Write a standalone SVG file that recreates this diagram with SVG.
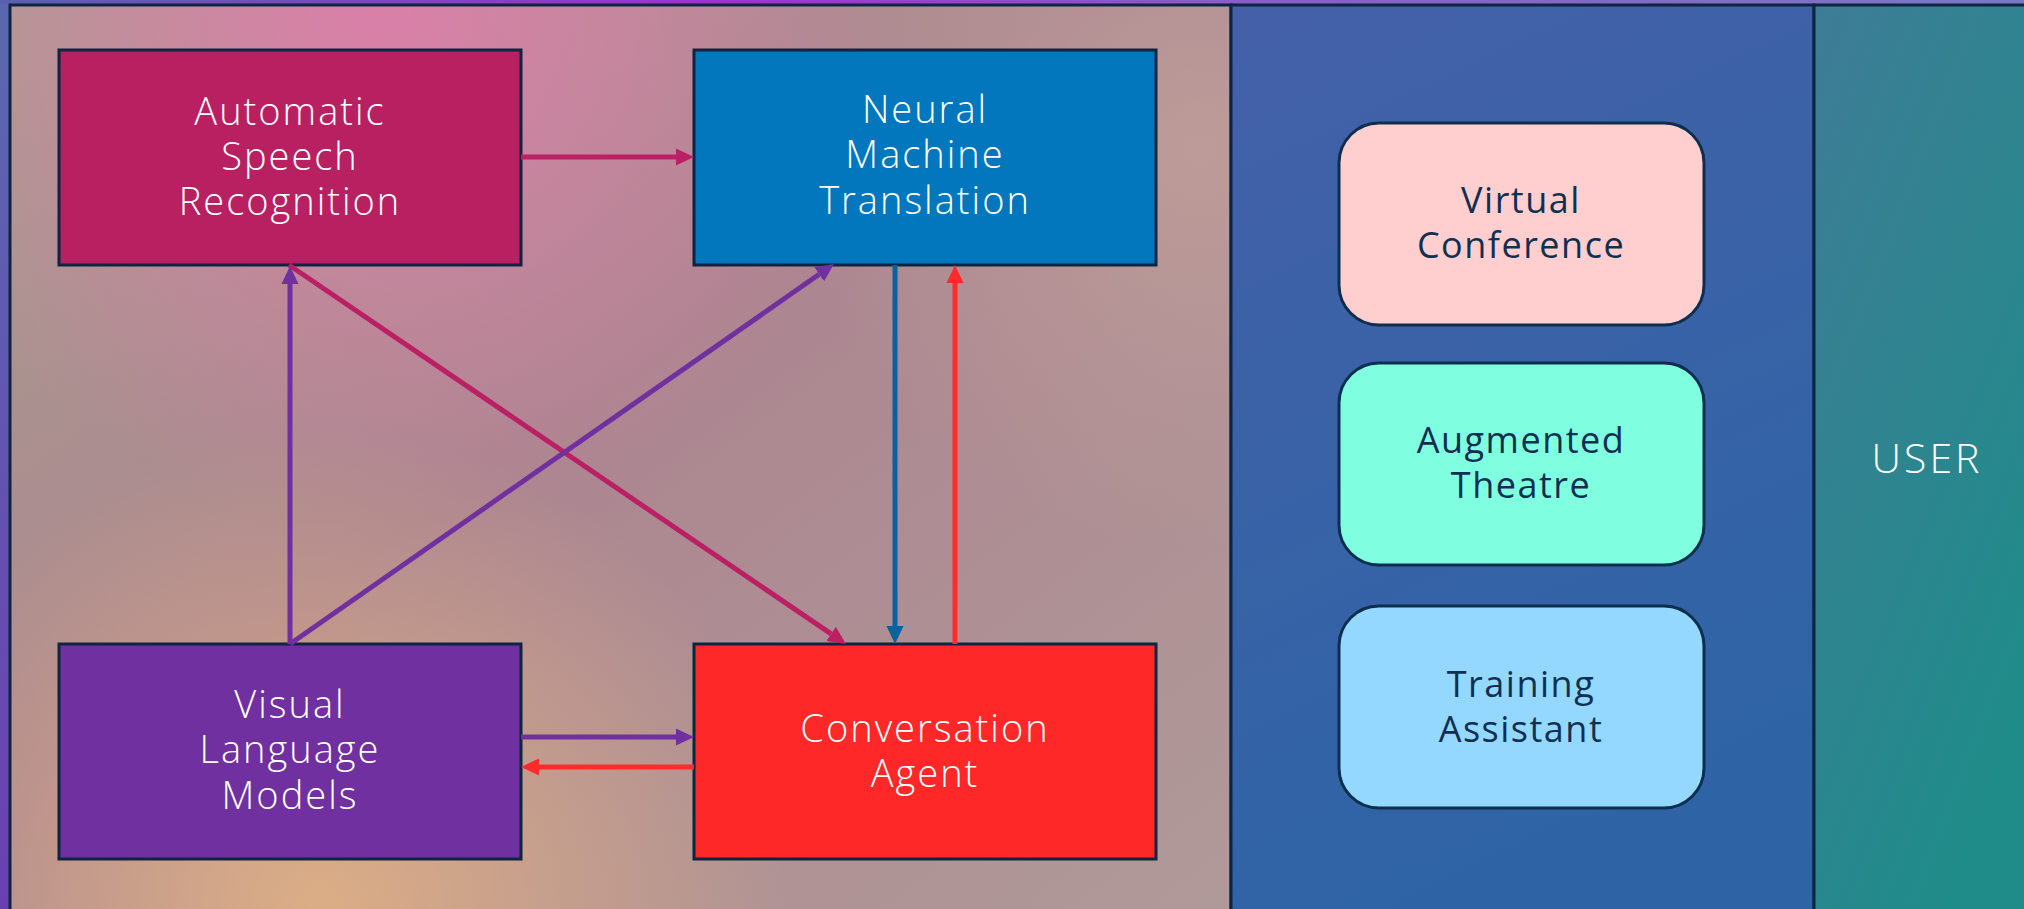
<svg xmlns="http://www.w3.org/2000/svg" width="2024" height="909" viewBox="0 0 2024 909">
  <defs>
    <linearGradient id="frameG" x1="0" y1="0" x2="1" y2="0">
      <stop offset="0" stop-color="#5a5fb0"/>
      <stop offset="0.35" stop-color="#a030d0"/>
      <stop offset="0.6" stop-color="#8a5cc8"/>
      <stop offset="1" stop-color="#7a78c4"/>
    </linearGradient>
    <linearGradient id="leftStripG" x1="0" y1="0" x2="0" y2="1">
      <stop offset="0" stop-color="#5a68b0"/>
      <stop offset="1" stop-color="#6a40b0"/>
    </linearGradient>
    <linearGradient id="panelBase" x1="0" y1="0" x2="1" y2="1">
      <stop offset="0" stop-color="#a89e8e"/>
      <stop offset="0.45" stop-color="#ac8590"/>
      <stop offset="1" stop-color="#b09a98"/>
    </linearGradient>
    <radialGradient id="pinkGlow" cx="380" cy="0" r="520" gradientUnits="userSpaceOnUse">
      <stop offset="0" stop-color="#de7eaa" stop-opacity="0.95"/>
      <stop offset="1" stop-color="#de7eaa" stop-opacity="0"/>
    </radialGradient>
    <radialGradient id="peachGlow" cx="320" cy="909" r="480" gradientUnits="userSpaceOnUse">
      <stop offset="0" stop-color="#dcae86" stop-opacity="1"/>
      <stop offset="1" stop-color="#dcae86" stop-opacity="0"/>
    </radialGradient>
    <radialGradient id="greyGlow" cx="1200" cy="150" r="400" gradientUnits="userSpaceOnUse">
      <stop offset="0" stop-color="#c0a09a" stop-opacity="0.8"/>
      <stop offset="1" stop-color="#c0a09a" stop-opacity="0"/>
    </radialGradient>
    <linearGradient id="midG" x1="0" y1="0" x2="0.3" y2="1">
      <stop offset="0" stop-color="#4460a8"/>
      <stop offset="1" stop-color="#2e64a6"/>
    </linearGradient>
    <linearGradient id="rightG" x1="0" y1="0" x2="0.6" y2="1">
      <stop offset="0" stop-color="#3e7c96"/>
      <stop offset="1" stop-color="#208c8a"/>
    </linearGradient>
    <marker id="mMag" markerUnits="userSpaceOnUse" markerWidth="18" markerHeight="18" refX="0" refY="8.5" orient="auto" viewBox="0 0 18 17">
      <path d="M0,0 L18,8.5 L0,17 z" fill="#bb2064"/>
    </marker>
    <marker id="mPur" markerUnits="userSpaceOnUse" markerWidth="18" markerHeight="18" refX="0" refY="8.5" orient="auto" viewBox="0 0 18 17">
      <path d="M0,0 L18,8.5 L0,17 z" fill="#7030a0"/>
    </marker>
    <marker id="mBlu" markerUnits="userSpaceOnUse" markerWidth="18" markerHeight="18" refX="0" refY="8.5" orient="auto" viewBox="0 0 18 17">
      <path d="M0,0 L18,8.5 L0,17 z" fill="#0a629c"/>
    </marker>
    <marker id="mRed" markerUnits="userSpaceOnUse" markerWidth="18" markerHeight="18" refX="0" refY="8.5" orient="auto" viewBox="0 0 18 17">
      <path d="M0,0 L18,8.5 L0,17 z" fill="#ff2a2a"/>
    </marker>
  </defs>
  <style>
    .box { stroke: #0d2540; stroke-width: 3; }
    .rbox { stroke: #0d2e4d; stroke-width: 3; }
    .wt { font-family: "Open Sans", "Liberation Sans", sans-serif; font-weight: 300; font-size: 38px; fill: #ffffff; text-anchor: middle; letter-spacing: 2px; }
    .dt { font-family: "Open Sans", "Liberation Sans", sans-serif; font-weight: 400; font-size: 36px; fill: #0f3050; text-anchor: middle; letter-spacing: 1.5px; }
    .panel { stroke: #0d2540; stroke-width: 3; }
    .c { fill: none; stroke-width: 5; }
  </style>

  <!-- frame / background -->
  <rect x="0" y="0" width="2024" height="909" fill="url(#frameG)"/>
  <rect x="0" y="5" width="10" height="904" fill="url(#leftStripG)"/>

  <!-- panels -->
  <g id="panel-left">
    <rect x="10" y="5" width="1221" height="910" fill="url(#panelBase)"/>
    <rect x="10" y="5" width="1221" height="910" fill="url(#greyGlow)"/>
    <rect x="10" y="5" width="1221" height="910" fill="url(#pinkGlow)"/>
    <rect x="10" y="5" width="1221" height="910" fill="url(#peachGlow)"/>
    <rect x="10" y="5" width="1221" height="910" fill="none" class="panel"/>
  </g>
  <g id="panel-middle">
    <rect x="1231" y="5" width="583" height="910" fill="url(#midG)" class="panel"/>
  </g>
  <g id="panel-right">
    <rect x="1814" y="5" width="212" height="910" fill="url(#rightG)" class="panel"/>
    <text x="1927" y="473" class="wt" style="font-size:41px;letter-spacing:3px">USER</text>
  </g>

  <!-- nodes -->
  <g id="node-asr">
    <rect x="59" y="50" width="462" height="215" fill="#b92062" class="box"/>
    <text class="wt"><tspan x="290" y="125">Automatic</tspan><tspan x="290" y="170">Speech</tspan><tspan x="290" y="215">Recognition</tspan></text>
  </g>
  <g id="node-nmt">
    <rect x="694" y="50" width="462" height="215" fill="#0277bd" class="box"/>
    <text class="wt"><tspan x="925" y="123">Neural</tspan><tspan x="925" y="168">Machine</tspan><tspan x="925" y="214">Translation</tspan></text>
  </g>
  <g id="node-vlm">
    <rect x="59" y="644" width="462" height="215" fill="#7030a0" class="box"/>
    <text class="wt"><tspan x="290" y="718">Visual</tspan><tspan x="290" y="763">Language</tspan><tspan x="290" y="809">Models</tspan></text>
  </g>
  <g id="node-ca">
    <rect x="694" y="644" width="462" height="215" fill="#ff2828" class="box"/>
    <text class="wt"><tspan x="925" y="742">Conversation</tspan><tspan x="925" y="787">Agent</tspan></text>
  </g>
  <g id="node-vc">
    <rect x="1339" y="123" width="365" height="202" rx="40" ry="40" fill="#ffcfcf" class="rbox"/>
    <text class="dt"><tspan x="1521" y="213">Virtual</tspan><tspan x="1521" y="258">Conference</tspan></text>
  </g>
  <g id="node-at">
    <rect x="1339" y="363" width="365" height="202" rx="40" ry="40" fill="#80ffe0" class="rbox"/>
    <text class="dt"><tspan x="1521" y="453">Augmented</tspan><tspan x="1521" y="498">Theatre</tspan></text>
  </g>
  <g id="node-ta">
    <rect x="1339" y="606" width="365" height="202" rx="40" ry="40" fill="#95d8ff" class="rbox"/>
    <text class="dt"><tspan x="1521" y="697">Training</tspan><tspan x="1521" y="742">Assistant</tspan></text>
  </g>

  <!-- connectors -->
  <g id="connectors">
    <line x1="521" y1="157" x2="676" y2="157" class="c" stroke="#bb2064" marker-end="url(#mMag)"/>
    <line x1="289" y1="265" x2="831.1" y2="633.9" class="c" stroke="#bb2064" marker-end="url(#mMag)"/>
    <line x1="290" y1="644" x2="290" y2="284" class="c" stroke="#7030a0" marker-end="url(#mPur)"/>
    <line x1="290" y1="644" x2="819.2" y2="274.3" class="c" stroke="#7030a0" marker-end="url(#mPur)"/>
    <line x1="895" y1="265" x2="895" y2="626" class="c" stroke="#0a629c" marker-end="url(#mBlu)"/>
    <line x1="955" y1="644" x2="955" y2="283" class="c" stroke="#ff2a2a" marker-end="url(#mRed)"/>
    <line x1="521" y1="737" x2="676" y2="737" class="c" stroke="#7030a0" marker-end="url(#mPur)"/>
    <line x1="694" y1="767" x2="539" y2="767" class="c" stroke="#ff2a2a" marker-end="url(#mRed)"/>
  </g>
</svg>
